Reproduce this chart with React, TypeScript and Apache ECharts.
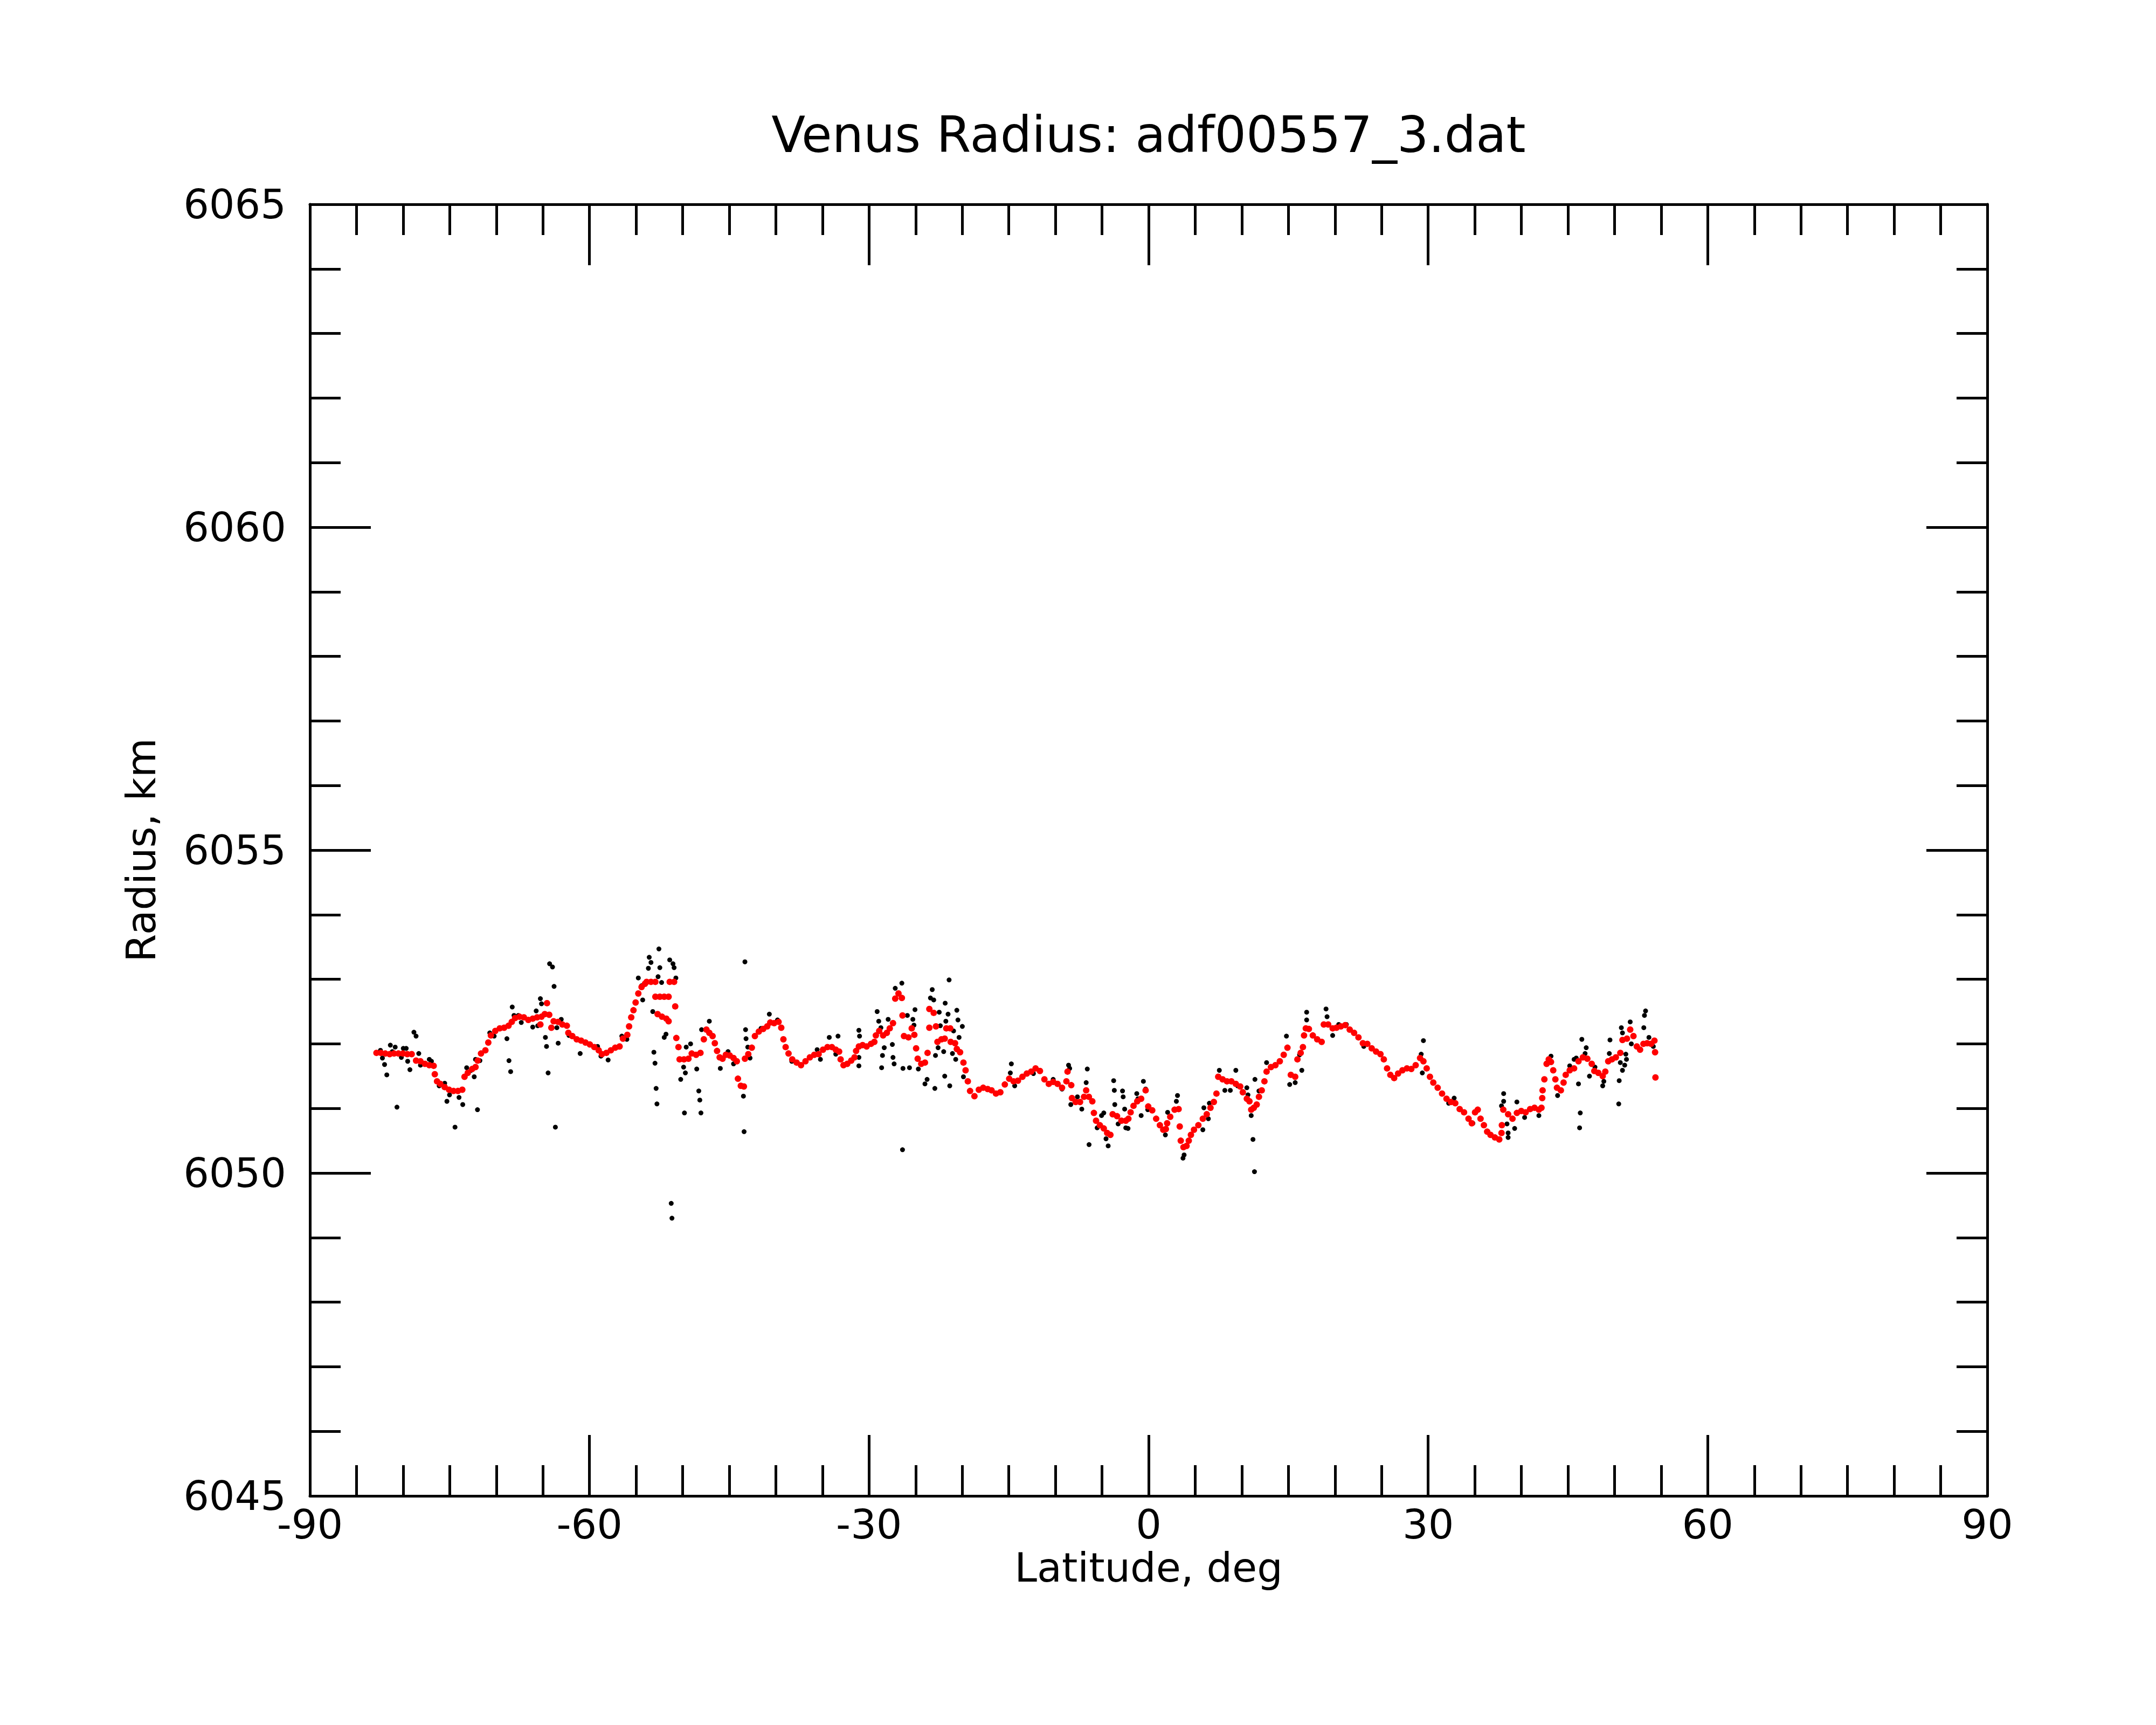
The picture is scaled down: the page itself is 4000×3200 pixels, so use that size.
import React, { useEffect, useRef } from "react";
import * as echarts from "echarts";

// ---- axis settings (values) ----
const xMin = -90;
const xMax = 90;
const xStep = 30;
const yMin = 6045;
const yMax = 6065;
const yStep = 5;

const titleText = "Venus Radius: adf00557_3.dat";
const xName = "Latitude, deg";
const yName = "Radius, km";

// ---- smoothed profile (red), [latitude deg, radius km] ----
const smoothedA: [number, number][] = [
  [-82.86, 6051.86], [-82.39, 6051.86], [-81.91, 6051.85], [-81.44, 6051.84], [-80.97, 6051.85],
  [-80.5, 6051.85], [-80.02, 6051.85], [-79.55, 6051.84], [-79.08, 6051.84], [-78.61, 6051.74],
  [-78.14, 6051.73], [-77.66, 6051.69], [-77.19, 6051.67], [-76.72, 6051.66], [-76.6, 6051.53],
  [-76.36, 6051.42], [-76.01, 6051.38], [-75.54, 6051.33], [-75.07, 6051.29], [-74.59, 6051.27],
  [-74.12, 6051.27], [-73.65, 6051.29], [-73.41, 6051.49], [-73.06, 6051.55], [-72.59, 6051.61],
  [-72.23, 6051.64], [-72.0, 6051.74], [-71.64, 6051.85], [-71.17, 6051.9], [-70.86, 6052.02],
  [-70.58, 6052.13], [-70.11, 6052.2], [-69.63, 6052.24], [-69.16, 6052.25], [-68.69, 6052.28],
  [-68.34, 6052.34], [-67.98, 6052.4], [-67.51, 6052.42], [-67.04, 6052.41], [-66.56, 6052.37],
  [-66.09, 6052.39], [-65.62, 6052.41], [-65.15, 6052.42], [-64.8, 6052.46], [-64.56, 6052.63],
  [-65.27, 6052.3], [-64.32, 6052.45], [-64.09, 6052.25], [-63.85, 6052.35], [-63.38, 6052.34],
  [-62.91, 6052.3], [-62.43, 6052.28], [-62.27, 6052.17], [-61.84, 6052.12], [-61.37, 6052.07],
  [-60.9, 6052.05], [-60.43, 6052.02], [-59.96, 6051.99], [-59.48, 6051.95], [-59.01, 6051.9],
  [-58.66, 6051.84], [-58.19, 6051.86], [-57.71, 6051.9], [-57.24, 6051.94], [-56.77, 6051.96],
  [-56.41, 6052.08], [-55.94, 6052.14], [-55.75, 6052.27], [-55.52, 6052.41], [-55.28, 6052.52],
  [-55.05, 6052.64], [-54.76, 6052.78], [-54.41, 6052.88], [-54.05, 6052.93],
];

const smoothedB: [number, number][] = [
  [-53.87, 6052.96], [-53.4, 6052.96], [-52.93, 6052.96], [-52.93, 6052.73], [-52.45, 6052.73],
  [-51.98, 6052.73], [-51.51, 6052.73], [-51.39, 6052.96], [-50.92, 6052.96], [-50.8, 6052.58],
  [-52.69, 6052.46], [-52.22, 6052.42], [-51.75, 6052.39], [-51.51, 6052.35], [-50.68, 6052.09],
  [-50.45, 6051.95], [-50.33, 6051.76], [-49.86, 6051.76], [-49.38, 6051.77], [-49.03, 6051.85],
  [-48.56, 6051.83], [-48.09, 6051.86], [-47.73, 6052.07], [-47.45, 6052.22], [-47.14, 6052.17],
  [-46.79, 6052.12], [-46.55, 6052.01], [-46.31, 6051.89], [-46.03, 6051.79], [-45.72, 6051.77],
  [-45.37, 6051.83], [-44.95, 6051.82], [-44.54, 6051.78], [-44.19, 6051.73], [-44.07, 6051.46],
  [-43.76, 6051.35], [-43.43, 6051.34], [-43.32, 6051.77], [-42.96, 6051.84], [-42.58, 6051.94],
  [-42.25, 6052.12], [-41.83, 6052.19], [-41.36, 6052.23], [-40.93, 6052.27], [-40.6, 6052.33],
  [-40.18, 6052.32], [-39.71, 6052.34], [-39.42, 6052.25], [-39.19, 6052.07], [-38.95, 6051.95],
  [-38.64, 6051.85], [-38.24, 6051.76], [-37.77, 6051.71], [-37.3, 6051.67], [-36.82, 6051.73],
  [-36.35, 6051.79], [-35.88, 6051.83], [-35.41, 6051.84], [-34.94, 6051.91], [-34.46, 6051.95],
  [-33.99, 6051.95], [-33.57, 6051.91], [-33.21, 6051.88], [-33.05, 6051.76], [-32.74, 6051.67],
  [-32.34, 6051.69], [-31.91, 6051.74], [-31.56, 6051.79], [-31.39, 6051.89], [-31.09, 6051.96],
  [-30.69, 6051.98], [-30.26, 6051.96], [-29.79, 6052.0], [-29.43, 6052.03], [-29.27, 6052.13],
  [-28.91, 6052.2], [-28.49, 6052.13], [-28.09, 6052.17], [-27.78, 6052.24], [-27.43, 6052.32],
  [-27.19, 6052.7], [-26.84, 6052.78], [-26.48, 6052.71], [-26.41, 6052.44], [-26.25, 6052.12],
  [-25.77, 6052.1], [-25.42, 6052.24], [-25.14, 6052.14], [-24.95, 6051.93], [-24.78, 6051.77],
  [-24.4, 6051.69], [-24.0, 6051.71], [-23.72, 6051.86], [-23.53, 6052.54], [-23.06, 6052.48],
  [-23.53, 6052.25], [-22.82, 6052.27], [-22.66, 6052.03], [-22.23, 6052.07], [-21.88, 6052.08],
  [-21.71, 6052.24], [-21.29, 6052.24], [-21.24, 6052.03], [-20.77, 6052.01], [-20.58, 6051.92],
  [-20.23, 6051.87], [-19.87, 6051.71], [-19.64, 6051.59], [-19.4, 6051.42], [-19.16, 6051.27],
  [-18.69, 6051.19], [-18.22, 6051.29], [-17.75, 6051.32], [-17.27, 6051.3],
];

const smoothedC: [number, number][] = [
  [-16.85, 6051.28], [-16.38, 6051.23], [-15.91, 6051.25], [-15.43, 6051.37], [-14.96, 6051.46],
  [-14.49, 6051.42], [-14.02, 6051.43], [-13.54, 6051.49], [-13.07, 6051.54], [-12.6, 6051.57],
  [-12.13, 6051.62], [-11.66, 6051.58], [-11.18, 6051.45], [-10.71, 6051.38], [-10.24, 6051.41],
  [-9.77, 6051.38], [-9.29, 6051.32], [-8.82, 6051.42], [-8.7, 6051.57], [-8.3, 6051.36],
  [-8.23, 6051.16], [-7.83, 6051.1], [-7.36, 6051.1], [-6.93, 6051.18], [-6.7, 6051.28],
  [-6.41, 6051.18], [-6.04, 6051.11], [-5.87, 6050.93], [-5.64, 6050.81], [-5.23, 6050.74],
  [-4.81, 6050.69], [-4.45, 6050.62], [-4.1, 6050.59], [-3.86, 6050.91], [-3.39, 6050.88],
  [-2.92, 6050.81], [-2.45, 6050.81], [-2.17, 6050.84], [-1.93, 6050.94], [-1.62, 6051.04],
  [-1.22, 6051.11], [-0.8, 6051.15], [-0.32, 6051.28], [-0.04, 6051.03], [0.39, 6050.97],
  [0.81, 6050.84], [1.21, 6050.74], [1.57, 6050.67], [1.85, 6050.68], [1.99, 6050.77],
  [2.32, 6050.87], [2.79, 6050.98], [3.22, 6050.99], [3.34, 6050.72], [3.45, 6050.5],
  [3.74, 6050.4], [4.07, 6050.42], [4.31, 6050.5], [4.54, 6050.59], [4.87, 6050.67],
  [5.34, 6050.74], [5.82, 6050.84], [6.24, 6050.91], [6.64, 6051.01], [7.0, 6051.1],
  [7.28, 6051.23], [7.47, 6051.49], [7.94, 6051.45], [8.41, 6051.42], [8.88, 6051.42],
  [9.36, 6051.38], [9.83, 6051.34], [10.11, 6051.25], [10.54, 6051.15], [10.82, 6051.11],
  [11.01, 6050.98], [11.29, 6051.01], [11.6, 6051.06], [11.84, 6051.18], [12.14, 6051.28],
  [12.43, 6051.42], [12.66, 6051.57], [13.13, 6051.64], [13.61, 6051.67], [14.08, 6051.73],
  [14.5, 6051.83], [14.9, 6051.94], [15.26, 6051.52], [15.73, 6051.49], [15.97, 6051.76],
  [16.32, 6051.86], [16.56, 6051.95], [16.68, 6052.13], [16.87, 6052.24], [17.2, 6052.23],
  [17.62, 6052.13], [18.09, 6052.07], [18.57, 6052.03], [18.8, 6052.3], [19.27, 6052.3],
  [19.75, 6052.24],
];

const smoothedD: [number, number][] = [
  [20.16, 6052.25], [20.63, 6052.27], [21.1, 6052.29], [21.58, 6052.22], [22.05, 6052.17],
  [22.52, 6052.1], [22.99, 6052.01], [23.47, 6052.0], [23.94, 6051.93], [24.41, 6051.88],
  [24.88, 6051.84], [25.24, 6051.76], [25.59, 6051.62], [25.94, 6051.52], [26.35, 6051.47],
  [26.77, 6051.54], [27.24, 6051.59], [27.72, 6051.62], [28.19, 6051.61], [28.66, 6051.67],
  [29.13, 6051.78], [29.49, 6051.73], [29.84, 6051.62], [30.19, 6051.49], [30.55, 6051.4],
  [31.02, 6051.32], [31.49, 6051.23], [31.97, 6051.15], [32.44, 6051.1], [32.91, 6051.08],
  [33.38, 6050.99], [33.85, 6050.94], [34.33, 6050.84], [34.68, 6050.77], [35.03, 6050.94],
  [35.32, 6050.98], [35.62, 6050.84], [35.98, 6050.74], [36.33, 6050.64], [36.69, 6050.59],
  [37.16, 6050.55], [37.63, 6050.52], [37.87, 6050.62], [37.91, 6050.74], [38.06, 6050.98],
  [38.58, 6050.91], [39.05, 6050.84], [39.52, 6050.93], [39.99, 6050.96], [40.46, 6050.94],
  [40.94, 6050.99], [41.41, 6051.01], [41.88, 6050.98], [42.16, 6051.01], [42.24, 6051.16],
  [42.28, 6051.28], [42.47, 6051.45], [42.71, 6051.69], [42.94, 6051.76], [43.18, 6051.72],
  [43.42, 6051.59], [43.65, 6051.45], [43.82, 6051.32], [44.24, 6051.28], [44.53, 6051.4],
  [44.76, 6051.52], [45.19, 6051.59], [45.66, 6051.62], [46.13, 6051.73], [46.6, 6051.79],
  [47.08, 6051.77], [47.55, 6051.69], [47.83, 6051.58], [48.26, 6051.55], [48.73, 6051.5],
  [49.01, 6051.57], [49.32, 6051.73], [49.72, 6051.76], [50.14, 6051.79], [50.62, 6051.86],
  [50.85, 6052.06], [51.33, 6052.08], [51.68, 6052.22], [52.03, 6052.12], [52.39, 6051.96],
  [52.74, 6051.91], [53.1, 6052.0], [53.5, 6052.01], [53.92, 6052.0], [54.28, 6052.05],
  [54.35, 6051.87], [54.39, 6051.48],
];

// ---- raw measurements (black), [latitude deg, radius km] ----
const rawA: [number, number][] = [
  [-82.43, 6051.9], [-82.22, 6051.78], [-81.99, 6051.68], [-81.75, 6051.52], [-81.37, 6051.98],
  [-80.85, 6051.95], [-81.16, 6051.88], [-80.66, 6051.02], [-80.19, 6051.79], [-79.98, 6051.93],
  [-79.67, 6051.93], [-79.51, 6051.73], [-79.27, 6051.6], [-78.84, 6052.18], [-78.61, 6052.12],
  [-78.32, 6051.85], [-78.14, 6051.67], [-77.19, 6051.76], [-76.96, 6051.73], [-76.13, 6051.35],
  [-75.54, 6051.39], [-75.3, 6051.11], [-75.02, 6051.21], [-74.43, 6050.71], [-74.0, 6051.17],
  [-73.6, 6051.06], [-73.18, 6051.63], [-72.71, 6051.59], [-72.37, 6051.49], [-72.23, 6051.76],
  [-72.02, 6050.98], [-71.76, 6051.74], [-70.7, 6052.17], [-70.23, 6052.12], [-68.86, 6052.08],
  [-68.64, 6051.74], [-68.46, 6051.57], [-68.29, 6052.57], [-68.1, 6052.44], [-67.63, 6052.44],
  [-67.32, 6052.33], [-66.09, 6052.26], [-65.72, 6052.51], [-65.55, 6052.28], [-65.27, 6052.7],
  [-65.15, 6052.62], [-64.73, 6052.1], [-64.61, 6051.96], [-64.44, 6051.55], [-64.28, 6053.24],
  [-63.97, 6053.19], [-63.8, 6052.89], [-63.66, 6050.71], [-63.5, 6052.25], [-63.36, 6052.01],
  [-63.03, 6052.38], [-62.2, 6052.13], [-61.0, 6051.85], [-59.13, 6051.96], [-58.77, 6051.81],
  [-58.0, 6051.75], [-56.89, 6051.95], [-56.53, 6052.12], [-55.99, 6052.07], [-54.76, 6053.02],
  [-54.41, 6052.9], [-54.29, 6052.68],
];

const rawB: [number, number][] = [
  [-53.59, 6053.34], [-53.4, 6053.26], [-53.68, 6053.17], [-52.55, 6053.47], [-52.45, 6053.18],
  [-52.64, 6053.04], [-52.26, 6052.95], [-53.21, 6052.5], [-53.09, 6051.87], [-52.97, 6051.7],
  [-52.85, 6051.31], [-52.76, 6051.07], [-51.98, 6052.1], [-51.79, 6052.15], [-51.39, 6053.3],
  [-51.04, 6053.24], [-50.92, 6053.18], [-50.73, 6053.02], [-51.23, 6049.53], [-51.15, 6049.3],
  [-50.21, 6051.45], [-49.9, 6051.64], [-49.81, 6050.93], [-49.71, 6051.55], [-49.62, 6051.95],
  [-49.15, 6052.0], [-48.49, 6051.61], [-48.27, 6051.27], [-48.16, 6051.13], [-48.04, 6050.93],
  [-47.97, 6052.22], [-47.14, 6052.35], [-45.96, 6051.62], [-45.13, 6051.88], [-44.54, 6051.69],
  [-43.48, 6051.19], [-43.41, 6050.64], [-43.32, 6053.27], [-43.25, 6052.22], [-43.2, 6052.08],
  [-43.01, 6051.95], [-42.77, 6051.78], [-41.59, 6052.24], [-40.7, 6052.46], [-39.82, 6052.37],
  [-38.29, 6051.73], [-35.57, 6051.91], [-35.22, 6051.76], [-34.27, 6052.1], [-33.57, 6051.84],
  [-33.33, 6052.12], [-31.09, 6052.21], [-31.02, 6052.12], [-31.09, 6051.79], [-31.09, 6051.66],
  [-29.13, 6052.5], [-28.96, 6052.35], [-28.73, 6052.25], [-28.65, 6051.63], [-28.56, 6051.82],
  [-28.37, 6051.94], [-27.95, 6052.38], [-27.5, 6051.99], [-27.43, 6051.79], [-27.31, 6051.69],
  [-27.19, 6052.86], [-26.48, 6052.94], [-26.41, 6050.36], [-26.36, 6051.62], [-25.89, 6052.44],
  [-25.66, 6051.63], [-25.3, 6052.38], [-25.18, 6052.29], [-25.07, 6052.53], [-24.71, 6051.61],
  [-24.0, 6051.38], [-23.77, 6051.45], [-23.22, 6052.84], [-23.41, 6052.71], [-23.06, 6052.68],
  [-22.94, 6051.31], [-22.87, 6051.82], [-22.59, 6051.94], [-22.47, 6052.49], [-22.35, 6052.28],
  [-21.99, 6051.88], [-21.88, 6051.5], [-21.83, 6052.63], [-21.76, 6052.35], [-21.52, 6052.46],
  [-21.41, 6052.99], [-21.34, 6051.35], [-21.05, 6051.85], [-20.93, 6052.2], [-20.7, 6051.76],
  [-20.58, 6052.52], [-20.46, 6052.37], [-20.34, 6052.1], [-19.99, 6052.27], [-19.87, 6051.49],
];

const rawC: [number, number][] = [
  [-14.73, 6051.69], [-14.84, 6051.55], [-14.37, 6051.35], [-12.36, 6051.54], [-10.24, 6051.45],
  [-9.29, 6051.3], [-8.59, 6051.67], [-8.47, 6051.62], [-8.35, 6051.06], [-7.64, 6051.18],
  [-7.17, 6050.99], [-6.58, 6051.61], [-6.7, 6051.4], [-6.39, 6050.44], [-5.52, 6050.7],
  [-5.05, 6050.89], [-4.81, 6050.93], [-4.57, 6050.53], [-4.34, 6050.42], [-3.75, 6051.43],
  [-3.68, 6051.28], [-3.63, 6051.06], [-3.27, 6050.76], [-2.8, 6051.27], [-2.73, 6051.18],
  [-2.57, 6050.99], [-2.45, 6050.7], [-2.21, 6050.69], [-1.27, 6051.23], [-1.15, 6051.15],
  [-0.8, 6050.89], [-0.56, 6051.42], [-0.32, 6051.3], [-0.09, 6050.98], [1.8, 6050.59],
  [2.04, 6050.94], [3.1, 6051.2], [2.98, 6051.11], [3.69, 6050.23], [3.81, 6050.28],
  [5.82, 6050.67], [5.93, 6051.01], [6.52, 6051.08], [6.41, 6050.84], [7.59, 6051.59],
  [8.18, 6051.28], [8.77, 6051.28], [9.36, 6051.59], [9.55, 6051.35], [10.54, 6051.32],
  [10.66, 6051.21], [11.01, 6050.89], [11.2, 6050.52], [11.36, 6050.02], [11.41, 6051.45],
  [11.84, 6051.27], [12.66, 6051.71], [14.79, 6052.12], [15.14, 6051.37], [15.73, 6051.4],
  [16.44, 6051.59], [16.2, 6051.83], [16.96, 6052.49], [16.96, 6052.37], [19.04, 6052.54],
  [19.15, 6052.42], [19.75, 6052.13],
];

const rawD: [number, number][] = [
  [20.4, 6052.3], [21.22, 6052.3], [23.09, 6051.96], [29.25, 6051.84], [29.49, 6052.05],
  [29.37, 6051.55], [32.79, 6051.16], [32.2, 6051.08], [34.8, 6050.77], [38.1, 6051.23],
  [38.1, 6051.11], [37.87, 6051.04], [38.46, 6050.76], [38.58, 6050.62], [38.58, 6050.55],
  [39.28, 6050.69], [39.52, 6051.1], [40.35, 6050.86], [41.88, 6050.89], [43.18, 6051.81],
  [43.89, 6051.2], [45.19, 6051.66], [45.66, 6051.76], [45.89, 6051.78], [46.13, 6051.38],
  [46.32, 6050.93], [46.25, 6050.7], [46.49, 6052.07], [46.96, 6051.94], [46.84, 6051.85],
  [47.31, 6051.5], [47.9, 6051.64], [48.73, 6051.35], [48.85, 6051.42], [49.44, 6051.85],
  [49.51, 6052.06], [50.5, 6051.43], [50.45, 6051.07], [50.62, 6051.71], [50.73, 6052.25],
  [50.85, 6052.17], [51.09, 6051.67], [51.21, 6051.84], [51.28, 6051.76], [50.85, 6051.59],
  [51.68, 6052.34], [51.8, 6052.0], [53.14, 6052.25], [53.33, 6052.51], [53.21, 6052.44],
  [53.69, 6052.1], [54.16, 6051.96],
];

const FONT = "DejaVu Sans";
const LW = 5;

function makeXAxis(position: "bottom" | "top", labels: boolean) {
  return {
    type: "value",
    position,
    min: xMin,
    max: xMax,
    interval: xStep,
    axisLine: { show: true, onZero: false, lineStyle: { color: "#000", width: LW } },
    axisTick: { show: true, inside: true, length: 113, lineStyle: { color: "#000", width: LW } },
    minorTick: { show: true, splitNumber: 6, length: 57, lineStyle: { color: "#000", width: LW } },
    axisLabel: {
      show: labels,
      margin: 15,
      fontSize: 75,
      color: "#000",
      fontFamily: FONT,
      formatter: (v: number) => String(v),
    },
    splitLine: { show: false },
    minorSplitLine: { show: false },
  };
}

function makeYAxis(position: "left" | "right", labels: boolean) {
  return {
    type: "value",
    position,
    min: yMin,
    max: yMax,
    interval: yStep,
    axisLine: { show: true, onZero: false, lineStyle: { color: "#000", width: LW } },
    axisTick: { show: true, inside: true, length: 113, lineStyle: { color: "#000", width: LW } },
    minorTick: { show: true, splitNumber: 5, length: 57, lineStyle: { color: "#000", width: LW } },
    axisLabel: {
      show: labels,
      margin: 44,
      fontSize: 75,
      color: "#000",
      fontFamily: FONT,
      formatter: (v: number) => String(v),
    },
    splitLine: { show: false },
    minorSplitLine: { show: false },
  };
}

export default function App() {
  const ref = useRef<HTMLDivElement>(null);

  useEffect(() => {
    if (!ref.current) return;
    const chart = echarts.init(ref.current, undefined, { renderer: "svg" });
    const raw = [...rawA, ...rawB, ...rawC, ...rawD];
    const smooth = [...smoothedA, ...smoothedB, ...smoothedC, ...smoothedD];
    chart.setOption({
      animation: false,
      backgroundColor: "#fff",
      grid: { left: 575, top: 379, right: 313, bottom: 425, containLabel: false },
      xAxis: [makeXAxis("bottom", true), makeXAxis("top", false)],
      yAxis: [makeYAxis("left", true), makeYAxis("right", false)],
      graphic: [
        {
          type: "text",
          x: 2131,
          y: 250,
          style: {
            text: titleText,
            fontSize: 92,
            fontFamily: FONT,
            fill: "#000",
            textAlign: "center",
            textVerticalAlign: "middle",
          },
        },
        {
          type: "text",
          x: 2131,
          y: 2908,
          style: {
            text: xName,
            fontSize: 75,
            fontFamily: FONT,
            fill: "#000",
            textAlign: "center",
            textVerticalAlign: "middle",
          },
        },
        {
          type: "text",
          x: 262,
          y: 1577,
          rotation: Math.PI / 2,
          style: {
            text: yName,
            fontSize: 75,
            fontFamily: FONT,
            fill: "#000",
            textAlign: "center",
            textVerticalAlign: "middle",
          },
        },
      ],
      series: [
        {
          type: "scatter",
          xAxisIndex: 0,
          yAxisIndex: 0,
          data: raw,
          symbol: "circle",
          symbolSize: 9,
          itemStyle: { color: "#000", opacity: 1 },
          silent: true,
        },
        {
          type: "scatter",
          xAxisIndex: 0,
          yAxisIndex: 0,
          data: smooth,
          symbol: "circle",
          symbolSize: 12,
          itemStyle: { color: "#ff0000", opacity: 1 },
          silent: true,
        },
      ],
    });
    return () => chart.dispose();
  }, []);

  return (
    <div
      ref={ref}
      style={{ position: "absolute", left: 0, top: 0, width: 4000, height: 3200, background: "#fff" }}
    />
  );
}
